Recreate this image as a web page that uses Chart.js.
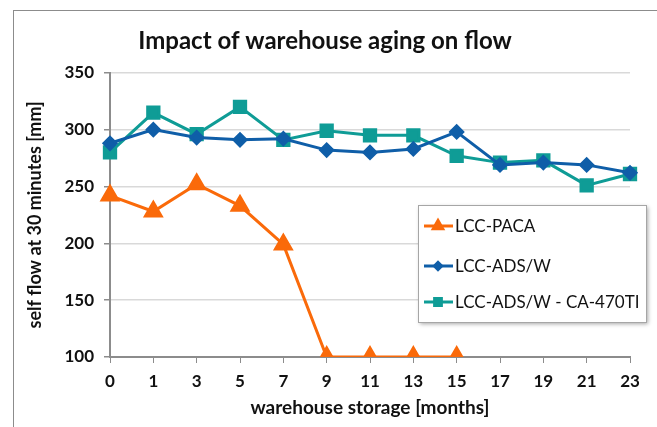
<!DOCTYPE html>
<html>
<head>
<meta charset="utf-8">
<script src="https://cdn.jsdelivr.net/npm/chart.js@4.4.0/dist/chart.umd.min.js"></script>
<style>
  html, body { margin: 0; padding: 0; background: #fff; }
  .frame { position: absolute; left: 13px; top: 10px; width: 700px; height: 500px; border-left: 1px solid #8c8c8c; border-top: 1px solid #8c8c8c; }
  .wrap { position: absolute; left: 0; top: 0; width: 657px; height: 427px; }
</style>
</head>
<body>
<div class="frame"></div>
<div class="wrap"><canvas id="chart" width="657" height="427"></canvas></div>
<script>
const months = ['0', '1', '3', '5', '7', '9', '11', '13', '15', '17', '19', '21', '23'];
const paca = [242, 228, 252, 233, 199, 100, 100, 100, 100, null, null, null, null];
const adsw = [288, 300, 293, 291, 292, 282, 280, 283, 298, 269, 271, 269, 262];
const adswCa = [280, 315, 296, 320, 291, 299, 295, 295, 277, 271, 273, 251, 261];

const FONT = 'Lato, "Open Sans", sans-serif';

// legend box drawn inside the plot, like the spreadsheet original
const boxLegend = {
  id: 'boxLegend',
  afterDraw(chart) {
    const ctx = chart.ctx;
    const x = 418, y = 205, w = 228, h = 117;
    ctx.save();
    ctx.shadowColor = 'rgba(0,0,0,0.35)';
    ctx.shadowBlur = 4;
    ctx.shadowOffsetX = 2;
    ctx.shadowOffsetY = 2;
    ctx.fillStyle = '#fff';
    ctx.fillRect(x, y, w, h);
    ctx.shadowColor = 'transparent';
    ctx.strokeStyle = '#a6a6a6';
    ctx.lineWidth = 1;
    ctx.strokeRect(x + 0.5, y + 0.5, w, h);
    ctx.font = '17px ' + FONT;
    ctx.textBaseline = 'middle';
    const rows = [226, 266, 302];
    chart.data.datasets.forEach((ds, i) => {
      const ry = rows[i];
      ctx.strokeStyle = ds.borderColor;
      ctx.lineWidth = 3;
      ctx.beginPath();
      ctx.moveTo(424, ry);
      ctx.lineTo(453, ry);
      ctx.stroke();
      Chart.helpers.drawPoint(ctx, { pointStyle: ds.pointStyle, radius: ds.pointRadius * 0.6, borderWidth: 1 }, 438, ry);
      ctx.fillStyle = ds.borderColor;
      ctx.fill();
      ctx.fillStyle = '#111';
      ctx.fillText(ds.label, 455, ry + 1);
    });
    ctx.restore();
  }
};

new Chart(document.getElementById('chart'), {
  type: 'line',
  data: {
    labels: months,
    datasets: [
      {
        label: 'LCC-PACA',
        data: paca,
        borderColor: '#fa6a0a',
        backgroundColor: '#fa6a0a',
        pointStyle: 'triangle',
        pointRadius: 9,
        borderWidth: 3,
      },
      {
        label: 'LCC-ADS/W',
        data: adsw,
        borderColor: '#0f5ea8',
        backgroundColor: '#0f5ea8',
        pointStyle: 'rectRot',
        pointRadius: 6,
        borderWidth: 3,
      },
      {
        label: 'LCC-ADS/W - CA-470TI',
        data: adswCa,
        borderColor: '#0f9c96',
        backgroundColor: '#0f9c96',
        pointStyle: 'rect',
        pointRadius: 8,
        borderWidth: 3,
      },
    ],
  },
  options: {
    responsive: false,
    animation: false,
    layout: { padding: { left: 20, right: 27, top: 11, bottom: 4 } },
    plugins: {
      legend: { display: false },
      tooltip: { enabled: false },
      title: {
        display: true,
        text: 'Impact of warehouse aging on flow',
        color: '#111',
        font: { family: FONT, size: 24, weight: 'bold' },
        padding: { top: 16, bottom: 17 },
      },
    },
    scales: {
      x: {
        offset: false,
        grid: { drawOnChartArea: false, tickLength: 6, tickColor: '#8c8c8c', lineWidth: 1 },
        border: { color: '#8c8c8c', width: 2 },
        ticks: { color: '#111', font: { family: FONT, size: 17, weight: 'bold' }, padding: 8, maxRotation: 0, autoSkip: false },
        title: { display: true, text: 'warehouse storage [months]', color: '#111', font: { family: FONT, size: 19, weight: 'bold' }, padding: { top: 5 } },
        afterFit(scale) { scale.height = 66; },
      },
      y: {
        min: 100,
        max: 350,
        grid: { color: '#d9d9d9', lineWidth: 1.5, tickLength: 6, tickColor: '#8c8c8c' },
        border: { color: '#8c8c8c', width: 2 },
        ticks: { stepSize: 50, color: '#111', font: { family: FONT, size: 17, weight: 'bold' }, padding: 10 },
        title: { display: true, text: 'self flow at 30 minutes [mm]', color: '#111', font: { family: FONT, size: 18, weight: 'bold' }, padding: { bottom: 2 } },
        afterFit(scale) { scale.width = 90; },
      },
    },
  },
  plugins: [boxLegend],
});
</script>
</body>
</html>
